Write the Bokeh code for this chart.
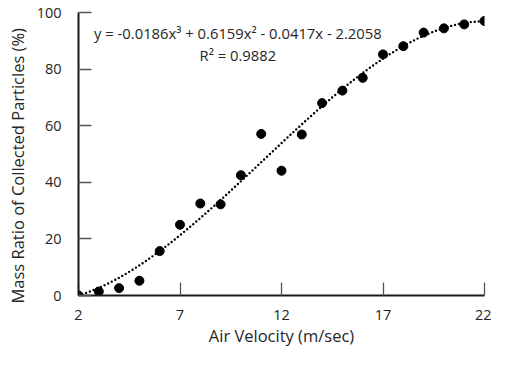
import numpy as np
from bokeh.plotting import figure
from bokeh.models import ColumnDataSource, FixedTicker, Range1d, Title
from bokeh.core.properties import value
from bokeh.embed import file_html
from bokeh.resources import INLINE

# Data
air_velocity = [2, 3, 4, 5, 6, 7, 8, 9, 10, 11, 12, 13, 14, 15, 16, 17, 18, 19, 20, 21, 22]
mass_ratio = [0.0, 1.4, 2.6, 5.2, 15.7, 25.0, 32.5, 32.2, 42.5, 57.1, 44.1, 56.9,
              68.0, 72.4, 76.9, 85.2, 88.1, 92.9, 94.4, 95.8, 97.0]

# Trendline coefficients, as printed on the chart (cubic -> constant)
trend_coeffs = [-0.0186, 0.6159, -0.0417, -2.2058]
equation_text = "y = -0.0186x\u00b3 + 0.6159x\u00b2 - 0.0417x - 2.2058"
r2_text = "R\u00b2 = 0.9882"

x_ticks = [2, 7, 12, 17, 22]
y_ticks = [0, 20, 40, 60, 80, 100]
x_title = "Air Velocity (m/sec)"
y_title = "Mass Ratio of Collected Particles (%)"

FONT = "Open Sans"
TXT = "#262626"

p = figure(width=491, height=349, output_backend="svg", toolbar_location=None,
           x_range=Range1d(2, 22), y_range=Range1d(0, 100),
           min_border_left=76, min_border_right=7, min_border_top=12, min_border_bottom=51)
p.outline_line_color = None
p.grid.grid_line_color = None
p.background_fill_color = "white"

# trendline
tx = np.linspace(min(air_velocity), max(air_velocity), 300)
ty = np.polyval(trend_coeffs, tx)
p.line(tx, ty, line_color="black", line_width=2.4, line_dash="0 4", line_cap="round")

src = ColumnDataSource(dict(x=air_velocity, y=mass_ratio))
p.scatter("x", "y", source=src, size=9, fill_color="black", line_color="black")

# equation annotations
p.text(x=[9.85], y=[92.8], text=[equation_text], text_font=value(FONT), text_font_size="14.8px",
       text_align="center", text_baseline="middle", text_color=TXT)
p.text(x=[9.85], y=[84.9], text=[r2_text], text_font=value(FONT), text_font_size="14.8px",
       text_align="center", text_baseline="middle", text_color=TXT)

for ax in (p.xaxis[0], p.yaxis[0]):
    ax.axis_line_color = "#1a1a1a"
    ax.axis_line_width = 2
    ax.major_tick_line_color = "#555555"
    ax.major_tick_line_width = 1.3
    ax.major_tick_in = 13
    ax.major_tick_out = 0
    ax.minor_tick_line_color = None
    ax.major_label_text_font = FONT
    ax.major_label_text_font_size = "14.5px"
    ax.major_label_text_color = TXT

p.xaxis[0].ticker = FixedTicker(ticks=x_ticks)
p.yaxis[0].ticker = FixedTicker(ticks=y_ticks)
p.xaxis[0].major_label_standoff = 14
p.yaxis[0].major_label_standoff = 17

# x axis title
p.xaxis[0].axis_label = x_title
p.xaxis[0].axis_label_text_font = FONT
p.xaxis[0].axis_label_text_font_size = "16.5px"
p.xaxis[0].axis_label_text_font_style = "normal"
p.xaxis[0].axis_label_text_color = TXT
p.xaxis[0].axis_label_standoff = 1

# y axis title
p.add_layout(Title(text=y_title, align="left", offset=-8, vertical_align="middle", standoff=8,
                   text_font=FONT, text_font_size="16.5px", text_font_style="normal",
                   text_color=TXT), "left")

open("out.html", "w").write(file_html(p, INLINE))
